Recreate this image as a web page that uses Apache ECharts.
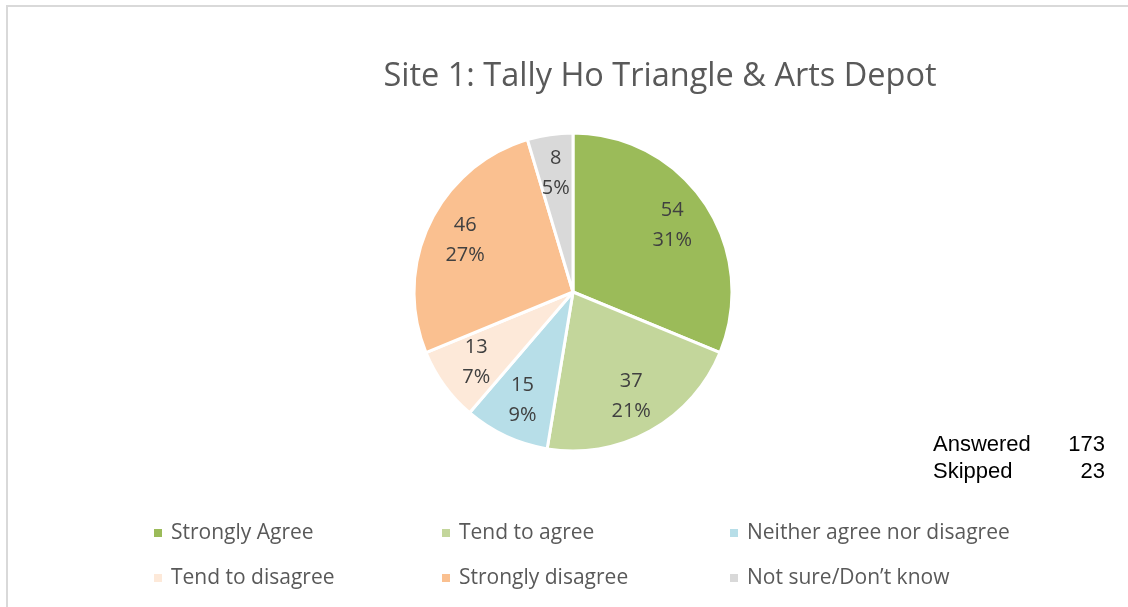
<!DOCTYPE html>
<html>
<head>
<meta charset="utf-8">
<script src="https://cdn.jsdelivr.net/npm/echarts@6/dist/echarts.min.js"></script>
<style>
  html, body { margin: 0; padding: 0; background: #fff; }
  #chart { width: 1128px; height: 607px; }
</style>
</head>
<body>
<div id="chart"></div>
<script>
  var categories = ['Strongly Agree', 'Tend to agree', 'Neither agree nor disagree',
    'Tend to disagree', 'Strongly disagree', 'Not sure/Don’t know'];
  var counts = [54, 37, 15, 13, 46, 8];
  var colors = ['#9bbb59', '#c3d69b', '#b7dee8', '#fde9d9', '#fac090', '#d9d9d9'];
  var answered = 173;
  var skipped = 23;

  var pieData = categories.map(function (name, i) {
    return { name: name, value: counts[i], itemStyle: { color: colors[i] } };
  });

  var chart = echarts.init(document.getElementById('chart'));
  var font = '"Open Sans", "Noto Sans", sans-serif';
  var statFont = '22px "Liberation Sans", Arial, sans-serif';

  chart.setOption({
    animation: false,
    title: {
      text: 'Site 1: Tally Ho Triangle & Arts Depot',
      left: 655,
      textAlign: 'center',
      top: 55,
      textStyle: { fontFamily: font, fontSize: 32.5, fontWeight: 'normal', color: '#595959' }
    },
    graphic: [
      {
        type: 'rect',
        shape: { x: 7, y: 6, width: 1130, height: 620 },
        style: { fill: 'none', stroke: '#d9d9d9', lineWidth: 2 },
        silent: true
      },
      {
        type: 'text',
        x: 933,
        y: 445,
        style: { text: 'Answered', font: statFont, fill: '#000', verticalAlign: 'middle' }
      },
      {
        type: 'text',
        x: 933,
        y: 472,
        style: { text: 'Skipped', font: statFont, fill: '#000', verticalAlign: 'middle' }
      },
      {
        type: 'text',
        x: 1105,
        y: 445,
        style: { text: String(answered), font: statFont, fill: '#000', align: 'right', verticalAlign: 'middle' }
      },
      {
        type: 'text',
        x: 1105,
        y: 472,
        style: { text: String(skipped), font: statFont, fill: '#000', align: 'right', verticalAlign: 'middle' }
      }
    ],
    legend: {
      data: categories,
      left: 147,
      top: 508,
      width: 880,
      icon: 'rect',
      itemWidth: 10,
      itemHeight: 10,
      itemGap: 5,
      selectedMode: false,
      textStyle: {
        fontFamily: font,
        fontSize: 21,
        color: '#595959',
        width: 264,
        lineHeight: 40,
        padding: [0, 0, 0, 3]
      }
    },
    series: [
      {
        type: 'pie',
        center: [573, 292],
        radius: [0, 159],
        startAngle: 90,
        clockwise: true,
        percentPrecision: 0,
        data: pieData,
        itemStyle: { borderColor: '#fff', borderWidth: 3 },
        label: { show: false },
        labelLine: { show: false },
        emphasis: { disabled: true }
      },
      {
        // transparent ring only used to push the labels outward
        type: 'pie',
        center: [573, 292],
        radius: [74, 159],
        startAngle: 90,
        clockwise: true,
        percentPrecision: 0,
        silent: true,
        data: pieData.map(function (d) {
          return { name: d.name, value: d.value, itemStyle: { color: 'rgba(0,0,0,0)' } };
        }),
        itemStyle: { borderWidth: 0 },
        label: {
          show: true,
          position: 'inside',
          formatter: '{c}\n{d}%',
          fontFamily: font,
          fontSize: 20,
          lineHeight: 30,
          color: '#404040'
        },
        labelLine: { show: false },
        emphasis: { disabled: true }
      }
    ]
  });
</script>
</body>
</html>
